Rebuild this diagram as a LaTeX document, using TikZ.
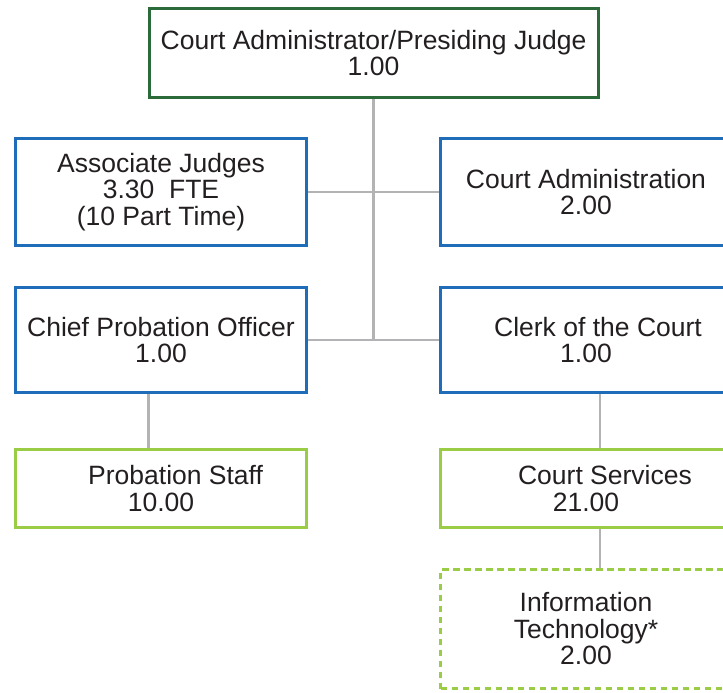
\documentclass[tikz,border=0pt]{standalone}
\usepackage{fontspec}
\setmainfont{Liberation Sans}

\definecolor{headgreen}{HTML}{2B6B3A}
\definecolor{unitblue}{HTML}{1F6DB8}
\definecolor{staffgreen}{HTML}{9ACD45}
\definecolor{linkgray}{HTML}{B3B3B6}
\definecolor{textgray}{HTML}{231F20}

\begin{document}
\begin{tikzpicture}[x=0.5pt, y=-0.5pt,
  main/.style = {draw, rectangle, line width=1.5pt, align=center, inner sep=0pt,
    text=textgray, font=\fontsize{13.25}{13.25}\selectfont},
  head/.style = {main, draw=headgreen, minimum width=224.5pt, minimum height=44.4pt},
  unit/.style = {main, draw=unitblue, minimum width=145.5pt},
  staff/.style = {main, draw=staffgreen, minimum width=145.5pt},
  link/.style = {draw=linkgray, line width=1.3pt}]

\useasboundingbox (0,0) rectangle (723,692);

% top of the chart
\node[head] (judge) at (373.5,53) {Court Administrator/Presiding Judge\\1.00};

% second and third rows
\node[unit, minimum height=53.5pt] (assoc) at (161,192) {Associate Judges\\3.30\ \ FTE\\(10 Part Time)};
\node[unit, minimum height=53.5pt] (admin) at (586,192) {Court Administration\\2.00};
\node[unit, minimum height=52.5pt] (chief) at (161,340) {Chief Probation Officer\\1.00};
\node[unit, minimum height=52.5pt] (clerk) at (586,340) {\hspace*{12pt}Clerk of the Court\\1.00};

% staff rows
\node[staff, minimum height=39pt] (pstaff) at (161,488.5) {\hspace*{14.6pt}Probation Staff\\10.00};
\node[staff, minimum height=39pt] (services) at (586,488.5) {\hspace*{19pt}Court Services\\21.00};
\node[staff, minimum height=59.5pt, dash pattern=on 3.35pt off 2.15pt] (infotech) at (586,629)
  {Information\\Technology*\\2.00};

\draw[link] (judge.south) -- (judge.south |- chief.east);
\draw[link] (assoc) -- (admin);
\draw[link] (chief) -- (clerk);
\draw[link] ([xshift=-6.25pt]chief.south) -- ([xshift=-6.25pt]pstaff.north);
\draw[link] ([xshift=7pt]clerk.south) -- ([xshift=7pt]services.north);
\draw[link] ([xshift=7pt]services.south) -- ([xshift=7pt]infotech.north);

\end{tikzpicture}
\end{document}
